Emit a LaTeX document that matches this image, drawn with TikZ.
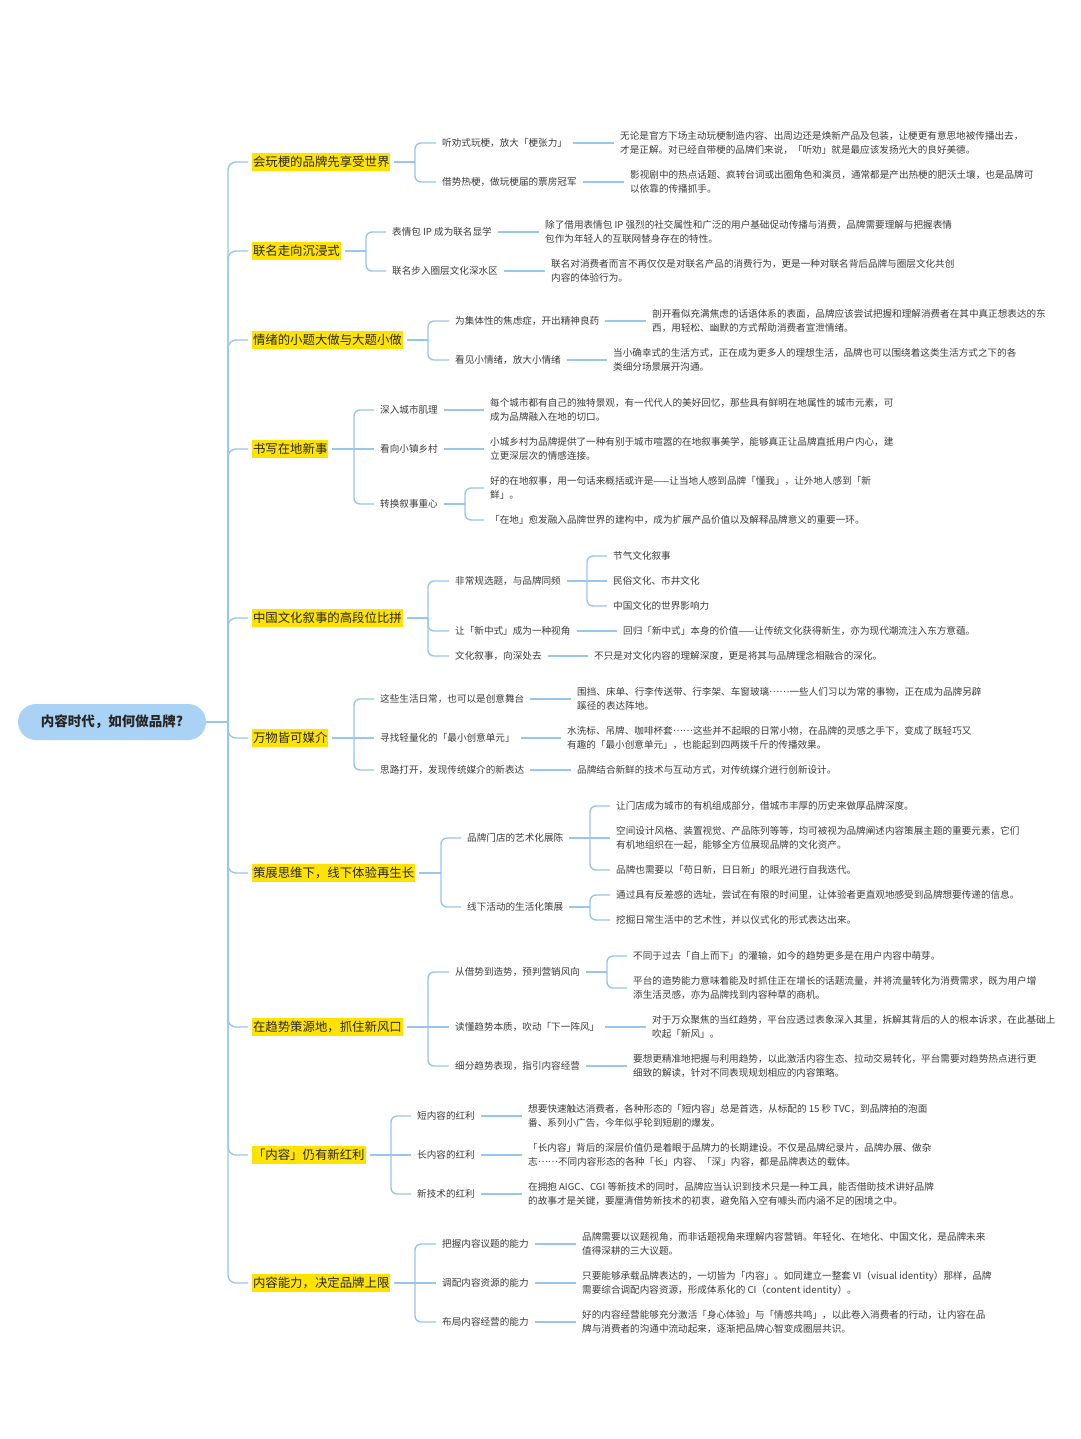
\documentclass[tikz,border=0pt]{standalone}
\usepackage{fontspec}
\setmainfont{Noto Sans CJK SC}
\usepackage{tikz}
\definecolor{linkblue}{HTML}{98C6EE}
\definecolor{rootblue}{HTML}{A9D2F5}
\definecolor{hlyellow}{HTML}{FFE300}
\definecolor{inkdark}{HTML}{262626}
\definecolor{inkgray}{HTML}{3C3C3C}
\newcommand{\cjkdots}{\raisebox{0.3em}{……}}
\begin{document}
\begin{tikzpicture}[x=1pt, y=-1pt,
  conn/.style={draw=linkblue, line width=1.4pt, rounded corners=6pt},
  rootbox/.style={fill=rootblue, rounded corners=18pt, minimum width=188pt, minimum height=36pt, text=inkdark, font=\fontsize{13.5}{16}\selectfont\bfseries},
  topic/.style={anchor=west, fill=hlyellow, inner xsep=1pt, inner ysep=0pt, minimum height=18pt, outer xsep=4pt, text=inkdark, font=\fontsize{12.4}{15}\selectfont},
  subtxt/.style={anchor=west, inner xsep=6pt, inner ysep=1pt, text=inkgray, font=\fontsize{9.6}{14}\selectfont},
  leaftxt/.style={subtxt, align=left}]
\fill[white] (0,0) rectangle (1080,1439);
\useasboundingbox (0,0) rectangle (1080,1439);
\node[rootbox] (root) at (112,722) {内容时代，如何做品牌?};
\coordinate (hub) at (228,722);
\node[topic] (t1) at (248,162) {会玩梗的品牌先享受世界};
\node[topic] (t2) at (248,251) {联名走向沉浸式};
\node[topic] (t3) at (248,340) {情绪的小题大做与大题小做};
\node[topic] (t4) at (248,449) {书写在地新事};
\node[topic] (t5) at (248,618) {中国文化叙事的高段位比拼};
\node[topic] (t6) at (248,738) {万物皆可媒介};
\node[topic] (t7) at (248,873) {策展思维下，线下体验再生长};
\node[topic] (t8) at (248,1027) {在趋势策源地，抓住新风口};
\node[topic] (t9) at (248,1155) {「内容」仍有新红利};
\node[topic] (t10) at (248,1283) {内容能力，决定品牌上限};
\draw[conn, rounded corners=8pt] (root.east) -- (hub);
\foreach \t in {t1,t2,t3,t4,t5,t6,t7,t8,t9,t10} \draw[conn, rounded corners=8pt] (hub) |- (\t.west);

\coordinate (j1) at (415,162);
\node[subtxt] (s11) at (436,143) {听劝式玩梗，放大「梗张力」};
\node[subtxt] (s12) at (436,182) {借势热梗，做玩梗届的票房冠军};
\node[leaftxt] (l11) at (614,143) {无论是官方下场主动玩梗制造内容、出周边还是焕新产品及包装，让梗更有意思地被传播出去，\\才是正解。对已经自带梗的品牌们来说，「听劝」就是最应该发扬光大的良好美德。};
\node[leaftxt] (l12) at (624,182) {影视剧中的热点话题、疯转台词或出圈角色和演员，通常都是产出热梗的肥沃土壤，也是品牌可\\以依靠的传播抓手。};

\coordinate (j2) at (366,251);
\node[subtxt] (s21) at (386,232) {表情包 IP 成为联名显学};
\node[subtxt] (s22) at (386,271) {联名步入圈层文化深水区};
\node[leaftxt] (l21) at (539,232) {除了借用表情包 IP 强烈的社交属性和广泛的用户基础促动传播与消费，品牌需要理解与把握表情\\包作为年轻人的互联网替身存在的特性。};
\node[leaftxt] (l22) at (545,271) {联名对消费者而言不再仅仅是对联名产品的消费行为，更是一种对联名背后品牌与圈层文化共创\\内容的体验行为。};

\coordinate (j3) at (428,340);
\node[subtxt] (s31) at (449,321) {为集体性的焦虑症，开出精神良药};
\node[subtxt] (s32) at (449,360) {看见小情绪，放大小情绪};
\node[leaftxt] (l31) at (646,321) {剖开看似充满焦虑的话语体系的表面，品牌应该尝试把握和理解消费者在其中真正想表达的东\\西，用轻松、幽默的方式帮助消费者宣泄情绪。};
\node[leaftxt] (l32) at (607,360) {当小确幸式的生活方式，正在成为更多人的理想生活，品牌也可以围绕着这类生活方式之下的各\\类细分场景展开沟通。};

\coordinate (j4) at (354,449);
\node[subtxt] (s41) at (374,410) {深入城市肌理};
\node[subtxt] (s42) at (374,449) {看向小镇乡村};
\node[subtxt] (s43) at (374,504) {转换叙事重心};
\node[leaftxt] (l41) at (484,410) {每个城市都有自己的独特景观，有一代代人的美好回忆，那些具有鲜明在地属性的城市元素，可\\成为品牌融入在地的切口。};
\node[leaftxt] (l42) at (484,449) {小城乡村为品牌提供了一种有别于城市喧嚣的在地叙事美学，能够真正让品牌直抵用户内心，建\\立更深层次的情感连接。};
\coordinate (j43) at (465,504);
\node[leaftxt] (l43a) at (484,488) {好的在地叙事，用一句话来概括或许是——让当地人感到品牌「懂我」，让外地人感到「新\\鲜」。};
\node[leaftxt] (l43b) at (484,520) {「在地」愈发融入品牌世界的建构中，成为扩展产品价值以及解释品牌意义的重要一环。};

\coordinate (j5) at (428,618);
\node[subtxt] (s51) at (449,581) {非常规选题，与品牌同频};
\node[subtxt] (s52) at (449,631) {让「新中式」成为一种视角};
\node[subtxt] (s53) at (449,656) {文化叙事，向深处去};
\coordinate (j51) at (587,581);
\node[subtxt] (l51a) at (607,556) {节气文化叙事};
\node[subtxt] (l51b) at (607,581) {民俗文化、市井文化};
\node[subtxt] (l51c) at (607,606) {中国文化的世界影响力};
\node[leaftxt] (l52) at (617,631) {回归「新中式」本身的价值——让传统文化获得新生，亦为现代潮流注入东方意蕴。};
\node[leaftxt] (l53) at (588,656) {不只是对文化内容的理解深度，更是将其与品牌理念相融合的深化。};

\coordinate (j6) at (354,738);
\node[subtxt] (s61) at (374,699) {这些生活日常，也可以是创意舞台};
\node[subtxt] (s62) at (374,738) {寻找轻量化的「最小创意单元」};
\node[subtxt] (s63) at (374,770) {思路打开，发现传统媒介的新表达};
\node[leaftxt] (l61) at (571,699) {围挡、床单、行李传送带、行李架、车窗玻璃\cjkdots 一些人们习以为常的事物，正在成为品牌另辟\\蹊径的表达阵地。};
\node[leaftxt] (l62) at (561,738) {水洗标、吊牌、咖啡杯套\cjkdots 这些并不起眼的日常小物，在品牌的灵感之手下，变成了既轻巧又\\有趣的「最小创意单元」，也能起到四两拨千斤的传播效果。};
\node[leaftxt] (l63) at (571,770) {品牌结合新鲜的技术与互动方式，对传统媒介进行创新设计。};

\coordinate (j7) at (441,873);
\node[subtxt] (s71) at (461,838) {品牌门店的艺术化展陈};
\node[subtxt] (s72) at (461,907) {线下活动的生活化策展};
\coordinate (j71) at (590,838);
\coordinate (j72) at (590,907);
\node[leaftxt] (l71a) at (610,806) {让门店成为城市的有机组成部分，借城市丰厚的历史来做厚品牌深度。};
\node[leaftxt] (l71b) at (610,838) {空间设计风格、装置视觉、产品陈列等等，均可被视为品牌阐述内容策展主题的重要元素，它们\\有机地组织在一起，能够全方位展现品牌的文化资产。};
\node[leaftxt] (l71c) at (610,870) {品牌也需要以「苟日新，日日新」的眼光进行自我迭代。};
\node[leaftxt] (l72a) at (610,895) {通过具有反差感的选址，尝试在有限的时间里，让体验者更直观地感受到品牌想要传递的信息。};
\node[leaftxt] (l72b) at (610,920) {挖掘日常生活中的艺术性，并以仪式化的形式表达出来。};

\coordinate (j8) at (428,1027);
\node[subtxt] (s81) at (449,972) {从借势到造势，预判营销风向};
\node[subtxt] (s82) at (449,1027) {读懂趋势本质，吹动「下一阵风」};
\node[subtxt] (s83) at (449,1066) {细分趋势表现，指引内容经营};
\coordinate (j81) at (607,972);
\node[leaftxt] (l81a) at (627,956) {不同于过去「自上而下」的灌输，如今的趋势更多是在用户内容中萌芽。};
\node[leaftxt] (l81b) at (627,988) {平台的造势能力意味着能及时抓住正在增长的话题流量，并将流量转化为消费需求，既为用户增\\添生活灵感，亦为品牌找到内容种草的商机。};
\node[leaftxt] (l82) at (646,1027) {对于万众聚焦的当红趋势，平台应透过表象深入其里，拆解其背后的人的根本诉求，在此基础上\\吹起「新风」。};
\node[leaftxt] (l83) at (627,1066) {要想更精准地把握与利用趋势，以此激活内容生态、拉动交易转化，平台需要对趋势热点进行更\\细致的解读，针对不同表现规划相应的内容策略。};

\coordinate (j9) at (391,1155);
\node[subtxt] (s91) at (411,1116) {短内容的红利};
\node[subtxt] (s92) at (411,1155) {长内容的红利};
\node[subtxt] (s93) at (411,1194) {新技术的红利};
\node[leaftxt] (l91) at (522,1116) {想要快速触达消费者，各种形态的「短内容」总是首选，从标配的 15 秒 TVC，到品牌拍的泡面\\番、系列小广告，今年似乎轮到短剧的爆发。};
\node[leaftxt] (l92) at (522,1155) {「长内容」背后的深层价值仍是着眼于品牌力的长期建设。不仅是品牌纪录片，品牌办展、做杂\\志\cjkdots 不同内容形态的各种「长」内容、「深」内容，都是品牌表达的载体。};
\node[leaftxt] (l93) at (522,1194) {在拥抱 AIGC、CGI 等新技术的同时，品牌应当认识到技术只是一种工具，能否借助技术讲好品牌\\的故事才是关键，要厘清借势新技术的初衷，避免陷入空有噱头而内涵不足的困境之中。};

\coordinate (j10) at (415,1283);
\node[subtxt] (s101) at (436,1244) {把握内容议题的能力};
\node[subtxt] (s102) at (436,1283) {调配内容资源的能力};
\node[subtxt] (s103) at (436,1322) {布局内容经营的能力};
\node[leaftxt] (l101) at (576,1244) {品牌需要以议题视角，而非话题视角来理解内容营销。年轻化、在地化、中国文化，是品牌未来\\值得深耕的三大议题。};
\node[leaftxt] (l102) at (576,1283) {只要能够承载品牌表达的，一切皆为「内容」。如同建立一整套 VI（visual identity）那样，品牌\\需要综合调配内容资源，形成体系化的 CI（content identity）。};
\node[leaftxt] (l103) at (576,1322) {好的内容经营能够充分激活「身心体验」与「情感共鸣」，以此卷入消费者的行动，让内容在品\\牌与消费者的沟通中流动起来，逐渐把品牌心智变成圈层共识。};

\foreach \t/\j in {t1/j1,t2/j2,t3/j3,t4/j4,t5/j5,t6/j6,t7/j7,t8/j8,t9/j9,t10/j10,s43/j43,s51/j51,s71/j71,s72/j72,s81/j81} \draw[conn] (\t.east) -- (\j);
\foreach \j/\s in {j1/s11,j1/s12,j2/s21,j2/s22,j3/s31,j3/s32,j4/s41,j4/s43,j43/l43a,j43/l43b,j5/s51,j5/s52,j5/s53,j51/l51a,j51/l51c,j6/s61,j6/s63,j7/s71,j7/s72,j71/l71a,j71/l71c,j72/l72a,j72/l72b,j8/s81,j8/s83,j81/l81a,j81/l81b,j9/s91,j9/s93,j10/s101,j10/s103} \draw[conn] (\j) |- (\s.west);
\foreach \j/\s in {j4/s42,j51/l51b,j6/s62,j71/l71b,j8/s82,j9/s92,j10/s102} \draw[conn] (\j) -- (\s.west);
\foreach \a/\b in {s11/l11,s12/l12,s21/l21,s22/l22,s31/l31,s32/l32,s41/l41,s42/l42,s52/l52,s53/l53,s61/l61,s62/l62,s63/l63,s82/l82,s83/l83,s91/l91,s92/l92,s93/l93,s101/l101,s102/l102,s103/l103} \draw[conn] (\a.east) -- (\b.west);
\end{tikzpicture}
\end{document}
